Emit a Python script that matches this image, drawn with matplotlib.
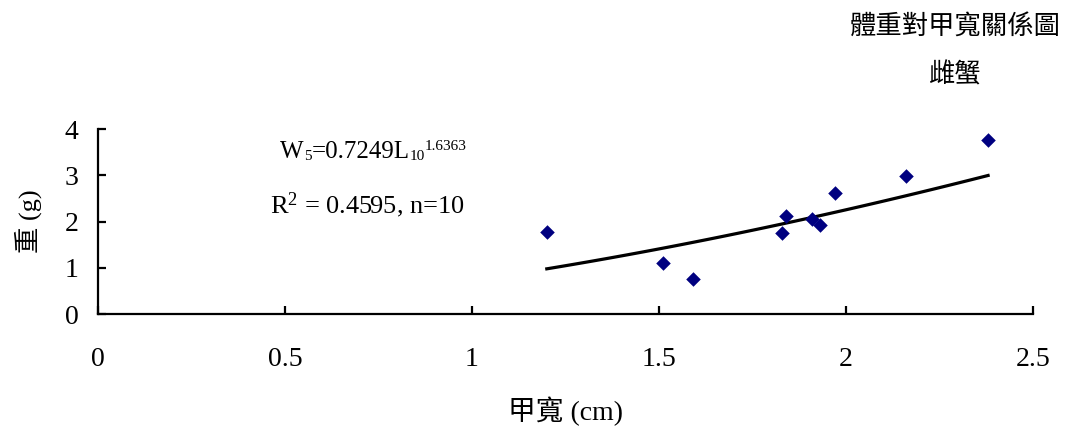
import matplotlib
matplotlib.use("Agg")
import matplotlib.pyplot as plt
import numpy as np

plt.rcParams['font.family'] = ['Liberation Serif', 'Noto Sans CJK TC']
plt.rcParams['mathtext.fontset'] = 'custom'
plt.rcParams['mathtext.rm'] = 'Liberation Serif'
plt.rcParams['mathtext.it'] = 'Liberation Serif'

# carapace width (cm) and body weight (g), females
width_cm = [1.20, 1.51, 1.59, 1.83, 1.84, 1.91, 1.93, 1.97, 2.16, 2.38]
weight_g = [1.77, 1.10, 0.76, 1.76, 2.12, 2.05, 1.92, 2.62, 2.98, 3.76]

# power fit W = a * L^b
fit_a = 0.7249
fit_b = 1.6363
fit_r2 = 0.4595

x_ticks = [0, 0.5, 1, 1.5, 2, 2.5]
y_ticks = [0, 1, 2, 3, 4]

fig = plt.figure(figsize=(10.7, 4.36), dpi=100)
ax = fig.add_axes([0.0916, 0.2798, 0.8738, 0.4243])

ax.scatter(width_cm, weight_g, marker='D', s=55, color='#000080', zorder=3,
           linewidths=0)

xf = np.linspace(min(width_cm), max(width_cm), 100)
ax.plot(xf, fit_a * xf ** fit_b, color='black', lw=2.3, zorder=2)

ax.set_xlim(0, 2.5)
ax.set_ylim(0, 4)
ax.set_xticks(x_ticks)
ax.set_xticklabels([f"{t:g}" for t in x_ticks])
ax.set_yticks(y_ticks)

for side in ['top', 'right']:
    ax.spines[side].set_visible(False)
for side in ['left', 'bottom']:
    ax.spines[side].set_linewidth(1.6)

ax.tick_params(direction='in', length=6, width=1.6, labelsize=20)
ax.tick_params(axis='x', pad=24)
ax.tick_params(axis='y', pad=14)

ax.set_xlabel("甲寬 (cm)", fontsize=20)
ax.xaxis.set_label_coords(0.5, -0.445)
ax.set_ylabel("重 (g)", fontsize=19)
ax.yaxis.set_label_coords(-0.06, 0.5)

# equation line: small digits sit on the baseline, exponent raised
eq_w = ax.text(0.487, 3.37, "W", fontsize=18, va='baseline')
eq_5 = ax.annotate("5", xy=(1, 0), xycoords=eq_w, va='bottom', fontsize=11)
eq_mid = ax.annotate("=0.7249L", xy=(1, 0), xycoords=eq_5, va='bottom',
                     fontsize=18)
eq_10 = ax.annotate("10", xy=(1, 0), xycoords=eq_mid, va='bottom',
                    fontsize=11)
ax.annotate(f"{fit_b}", xy=(1, 0.8), xycoords=eq_10, va='bottom', fontsize=11)

ax.text(0.46, 2.18, f"R$^2$ = {fit_r2}, n={len(width_cm)}", fontsize=19,
        va='baseline')

fig.text(0.893, 0.937, "體重對甲寬關係圖", fontsize=19, ha='center', va='center')
fig.text(0.893, 0.828, "雌蟹", fontsize=19, ha='center', va='center')

fig.savefig("out.png", dpi=100)
